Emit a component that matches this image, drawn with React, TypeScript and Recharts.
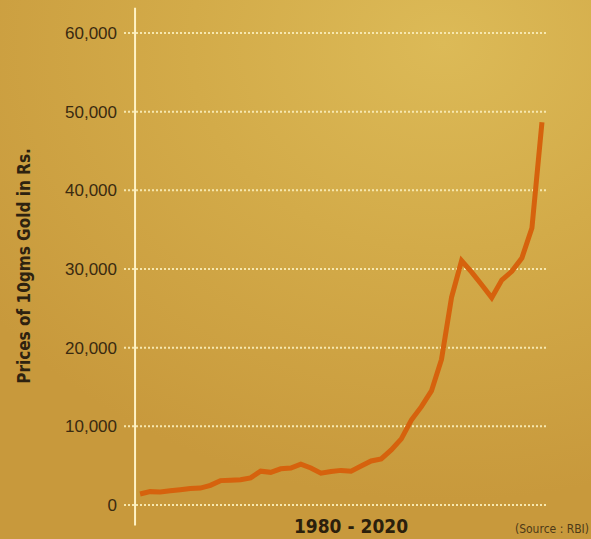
import React from "react";
import { LineChart, Line, XAxis, YAxis, CartesianGrid, ReferenceLine } from "recharts";

const years = [
  1980, 1981, 1982, 1983, 1984, 1985, 1986, 1987, 1988, 1989,
  1990, 1991, 1992, 1993, 1994, 1995, 1996, 1997, 1998, 1999,
  2000, 2001, 2002, 2003, 2004, 2005, 2006, 2007, 2008, 2009,
  2010, 2011, 2012, 2013, 2014, 2015, 2016, 2017, 2018, 2019, 2020,
];
const prices = [
  1400, 1700, 1650, 1800, 1950, 2100, 2150, 2500, 3100, 3150,
  3200, 3450, 4300, 4150, 4600, 4700, 5200, 4700, 4050, 4250,
  4400, 4300, 4950, 5600, 5850, 7000, 8400, 10800, 12500, 14500,
  18500, 26400, 31050, 29600, 28000, 26350, 28600, 29700, 31400, 35200, 48650,
];
const yTicks = [0, 10000, 20000, 30000, 40000, 50000, 60000];
const yTitle = "Prices of 10gms Gold in Rs.";
const xTitle = "1980 - 2020";
const sourceText = "(Source : RBI)";

const data = years.map((y, i) => ({ year: y, price: prices[i] }));

export default function App() {
  return (
    <div
      style={{
        position: "absolute",
        left: 0,
        top: 0,
        width: 591,
        height: 539,
        overflow: "hidden",
        background:
          "radial-gradient(ellipse 95% 85% at 75% 8%, #dcba57 0%, #d3ab49 45%, #c8993c 100%)",
      }}
    >
      <LineChart
        width={591}
        height={539}
        data={data}
        margin={{ top: 33, right: 43, bottom: 34, left: 0 }}
      >
        <CartesianGrid
          horizontal={true}
          vertical={false}
          stroke="#f6e7ae"
          strokeWidth={2}
          strokeDasharray="2 2"
        />
        <XAxis
          dataKey="year"
          type="number"
          domain={[1978.4, 2020.6]}
          height={0}
          tick={false}
          tickLine={false}
          axisLine={{ stroke: "#fff2c4", strokeWidth: 3 }}
        />
        <YAxis
          width={124}
          domain={[0, 60000]}
          ticks={yTicks}
          interval={0}
          axisLine={false}
          tickLine={false}
          tickSize={0}
          tickMargin={7}
          tickFormatter={(v: number) => v.toLocaleString("en-US")}
          tick={{ fill: "#3a2a10", fontSize: 17, fontFamily: "Liberation Sans" }}
        />
        <ReferenceLine
          segment={[
            { x: 1979.5, y: 63200 },
            { x: 1979.5, y: -2600 },
          ]}
          stroke="#fff2c4"
          strokeWidth={2}
          ifOverflow="visible"
        />
        <Line
          type="linear"
          dataKey="price"
          stroke="#d6620d"
          strokeWidth={5}
          dot={false}
          isAnimationActive={false}
        />
        <text
          x={24}
          y={266}
          transform="rotate(-90 24 266)"
          textAnchor="middle"
          dominantBaseline="central"
          fontFamily="DejaVu Sans Condensed, DejaVu Sans"
          fontWeight="bold"
          fontStretch="condensed"
          fontSize={17}
          fill="#2e2210"
        >
          {yTitle}
        </text>
        <text
          x={351}
          y={533}
          textAnchor="middle"
          fontFamily="DejaVu Sans Condensed, DejaVu Sans"
          fontWeight="bold"
          fontStretch="condensed"
          fontSize={19}
          fill="#2b1f0c"
        >
          {xTitle}
        </text>
        <text
          x={589}
          y={533}
          textAnchor="end"
          fontFamily="DejaVu Sans Condensed, DejaVu Sans"
          fontStretch="condensed"
          fontSize={12}
          fill="#4d3a18"
        >
          {sourceText}
        </text>
      </LineChart>
    </div>
  );
}
